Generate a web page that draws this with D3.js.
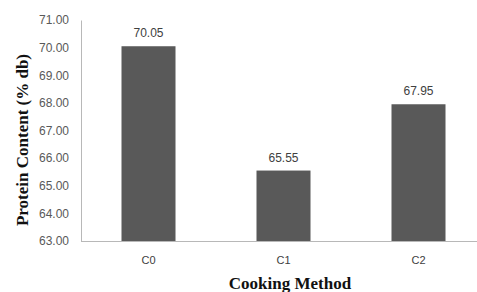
<!DOCTYPE html>
<html>
<head>
<meta charset="utf-8">
<script src="https://cdn.jsdelivr.net/npm/d3@7"></script>
<style>
  body { margin: 0; background: #fff; }
  svg { display: block; }
</style>
</head>
<body>
<div id="chart"></div>
<script>
// data
const methods = ["C0", "C1", "C2"];
const protein = [70.05, 65.55, 67.95];
const yTicks = [63, 64, 65, 66, 67, 68, 69, 70, 71];

const width = 477, height = 292;
const margin = {top: 20, right: -9, bottom: 51, left: 81};

const svg = d3.select("#chart")
  .append("svg")
    .attr("width", width)
    .attr("height", height);

const x = d3.scaleBand()
  .domain(methods)
  .range([margin.left, width - margin.right])
  .paddingInner(0.6)
  .paddingOuter(0.3);

const y = d3.scaleLinear()
  .domain([63, 71])
  .range([height - margin.bottom, margin.top]);

// y axis, no tick marks, just the labels and a thin line
const yAxis = svg.append("g")
  .attr("transform", `translate(${margin.left},0)`)
  .call(d3.axisLeft(y).tickValues(yTicks).tickSize(0).tickPadding(12).tickFormat(d3.format(".2f")));
yAxis.select(".domain").attr("stroke", "#b8b8b8");
yAxis.selectAll("text")
  .attr("fill", "#595959")
  .style("font-family", "'Liberation Sans', Arial, sans-serif")
  .style("font-size", "12px");

// bars
svg.selectAll("rect.bar")
  .data(protein)
  .join("rect")
    .attr("class", "bar")
    .attr("x", (d, i) => x(methods[i]))
    .attr("y", d => y(d))
    .attr("width", x.bandwidth())
    .attr("height", d => y(63) - y(d))
    .attr("fill", "#595959");

// value labels
svg.selectAll("text.val")
  .data(protein)
  .join("text")
    .attr("class", "val")
    .attr("x", (d, i) => x(methods[i]) + x.bandwidth() / 2)
    .attr("y", d => y(d) - 9)
    .attr("text-anchor", "middle")
    .attr("fill", "#404040")
    .style("font-family", "'Liberation Sans', Arial, sans-serif")
    .style("font-size", "12px")
    .text(d => d.toFixed(2));

// x axis
const xAxis = svg.append("g")
  .attr("transform", `translate(0,${y(63)})`)
  .call(d3.axisBottom(x).tickSize(0).tickPadding(15));
xAxis.select(".domain").attr("stroke", "#b8b8b8").attr("d", `M${margin.left},0.5H${width}`);
xAxis.selectAll("text")
  .attr("fill", "#404040")
  .style("font-family", "'Liberation Sans', Arial, sans-serif")
  .style("font-size", "11px");

// axis titles
svg.append("text")
  .attr("x", 290)
  .attr("y", 289)
  .attr("text-anchor", "middle")
  .style("font-family", "'Liberation Serif', 'Times New Roman', serif")
  .style("font-weight", "bold")
  .style("font-size", "17px")
  .attr("fill", "#111")
  .text("Cooking Method");

svg.append("text")
  .attr("transform", "translate(28,140) rotate(-90)")
  .attr("text-anchor", "middle")
  .style("font-family", "'Liberation Serif', 'Times New Roman', serif")
  .style("font-weight", "bold")
  .style("font-size", "17px")
  .attr("fill", "#111")
  .text("Protein Content (% db)");
</script>
</body>
</html>
